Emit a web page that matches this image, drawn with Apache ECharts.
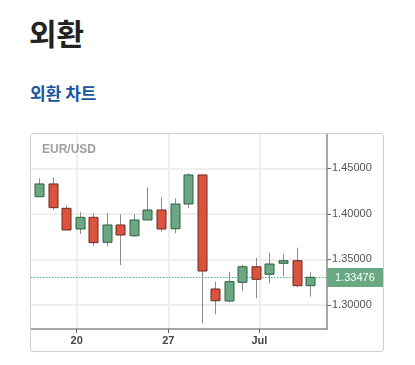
<!DOCTYPE html>
<html>
<head>
<meta charset="utf-8">
<script src="https://cdn.jsdelivr.net/npm/echarts@6/dist/echarts.min.js"></script>
<style>
  body { margin: 0; background: #fff; font-family: "Noto Sans CJK KR", "Noto Sans", sans-serif; }
  h1 { position: absolute; left: 29px; top: 12px; margin: 0; font-size: 30px; font-weight: bold; color: #222; line-height: 40px; }
  h2 { position: absolute; left: 30px; top: 80px; margin: 0; font-size: 17px; font-weight: bold; color: #1a56a0; line-height: 26px; }
  #box { position: absolute; left: 30px; top: 133px; width: 352px; height: 217px; border: 1px solid #cfcfcf; border-radius: 3px; }
  #main { width: 352px; height: 217px; }
</style>
</head>
<body>
<h1>외환</h1>
<h2>외환 차트</h2>
<div id="box"><div id="main"></div></div>
<script>
// 시세 데이터 (캔들 순서대로)
const opens  = [1.4188, 1.4328, 1.4061, 1.3834, 1.3962, 1.3688, 1.3878, 1.3760, 1.3933, 1.4042, 1.3837,
                1.4108, 1.4427, 1.3176, 1.3044, 1.3249, 1.3420, 1.3337, 1.3458, 1.3486, 1.3212];
const closes = [1.4328, 1.4068, 1.3823, 1.3962, 1.3684, 1.3878, 1.3768, 1.3933, 1.4042, 1.3834, 1.4108,
                1.4427, 1.3373, 1.3047, 1.3256, 1.3420, 1.3282, 1.3450, 1.3486, 1.3212, 1.3304];
const lows   = [1.4188, 1.4042, 1.3823, 1.3779, 1.3647, 1.3647, 1.3439, 1.3749, 1.3933, 1.3804, 1.3787,
                1.4061, 1.2799, 1.2898, 1.3030, 1.3154, 1.3074, 1.3238, 1.3318, 1.3194, 1.3091];
const highs  = [1.4390, 1.4401, 1.4090, 1.4017, 1.4006, 1.4006, 1.3995, 1.3995, 1.4292, 1.4182, 1.4171,
                1.4445, 1.4427, 1.3256, 1.3365, 1.3442, 1.3516, 1.3574, 1.3556, 1.3629, 1.3365];

// x축 눈금 (캔들 인덱스 기준 위치)
const xTickPos    = [2.78, 9.54, 16.26];
const xTickLabels = ["20", "27", "Jul"];
const yTicks      = [1.30, 1.35, 1.40, 1.45];
const pairName    = "EUR/USD";
const lastQuote   = "1.33476";

const candleData = opens.map(function (o, i) {
  return [i, o, closes[i], lows[i], highs[i]];
});

function renderCandle(params, api) {
  const x = api.value(0);
  const o = api.value(1), c = api.value(2);
  const lowPt = api.coord([x, api.value(3)]);
  const highPt = api.coord([x, api.value(4)]);
  const top = api.coord([x, Math.max(o, c)]);
  const bot = api.coord([x, Math.min(o, c)]);
  const up = c >= o;
  const w = 9;
  const cx = Math.round(lowPt[0]) + 0.5;
  return {
    type: "group",
    children: [
      {
        type: "line",
        shape: { x1: cx, y1: highPt[1], x2: cx, y2: lowPt[1] },
        style: { stroke: "#8c8c8c", lineWidth: 1 },
      },
      {
        type: "rect",
        shape: { x: cx - w / 2, y: top[1], width: w, height: Math.max(bot[1] - top[1], 2) },
        style: {
          fill: up ? "#6aa884" : "#d9533e",
          stroke: up ? "#2f5e3e" : "#6d2a22",
          lineWidth: 1,
        },
      },
    ],
  };
}

// 현재가 점선 + 오른쪽 가격 라벨
function renderQuote(params, api) {
  const cs = params.coordSys;
  const y = Math.round(api.coord([0, api.value(0)])[1]) + 0.5;
  const right = cs.x + cs.width;
  return {
    type: "group",
    children: [
      {
        type: "line",
        shape: { x1: cs.x, y1: y, x2: right, y2: y },
        style: { stroke: "#4cb47f", lineWidth: 1, lineDash: [1.5, 1.5] },
      },
      {
        type: "rect",
        shape: { x: right, y: y - 9.5, width: 56, height: 19 },
        style: { fill: "#6aa884" },
      },
      {
        type: "text",
        x: right + 8,
        y: y,
        style: {
          text: lastQuote,
          fill: "#fff",
          font: "11px 'Liberation Sans'",
          verticalAlign: "middle",
        },
      },
    ],
  };
}

const option = {
  animation: false,
  title: {
    text: pairName,
    left: 11,
    top: 10,
    padding: 0,
    textStyle: { fontFamily: "Liberation Sans", fontSize: 12, fontWeight: "bold", color: "#a0a0a0" },
  },
  grid: { left: 0, right: 56, top: 0, bottom: 22 },
  xAxis: {
    type: "value",
    min: -0.59,
    max: 21.25,
    axisLine: { show: true, onZero: false, lineStyle: { color: "#8a8a8a", width: 1.5 } },
    axisTick: { show: true, length: 4, customValues: xTickPos, lineStyle: { color: "#666" } },
    axisLabel: {
      customValues: xTickPos,
      formatter: function (v) {
        const i = xTickPos.indexOf(v);
        return i >= 0 ? xTickLabels[i] : "";
      },
      fontFamily: "Liberation Sans",
      fontSize: 11,
      fontWeight: "bold",
      color: "#444",
      margin: 6,
    },
    splitLine: { show: true, lineStyle: { color: "#e8e8e8", width: 1.5 } },
  },
  yAxis: {
    type: "value",
    position: "right",
    min: 1.2737,
    max: 1.4876,
    axisLine: { show: true, onZero: false, lineStyle: { color: "#8a8a8a", width: 1.5 } },
    axisTick: { show: true, length: 4, customValues: yTicks, lineStyle: { color: "#666" } },
    axisLabel: {
      customValues: yTicks,
      formatter: function (v) { return v.toFixed(5); },
      fontFamily: "Liberation Sans",
      fontSize: 11,
      color: "#555",
      margin: 5,
    },
    splitLine: { show: true, lineStyle: { color: "#e8e8e8", width: 1.5 } },
  },
  series: [
    {
      type: "custom",
      renderItem: renderQuote,
      encode: { y: 0 },
      data: [[closes[closes.length - 1]]],
      clip: false,
      z: 2,
    },
    {
      type: "custom",
      renderItem: renderCandle,
      encode: { x: 0, y: [1, 2, 3, 4] },
      data: candleData,
      clip: true,
      z: 3,
    },
  ],
};

const myChart = echarts.init(document.getElementById("main"));
myChart.setOption(option);
</script>
</body>
</html>
